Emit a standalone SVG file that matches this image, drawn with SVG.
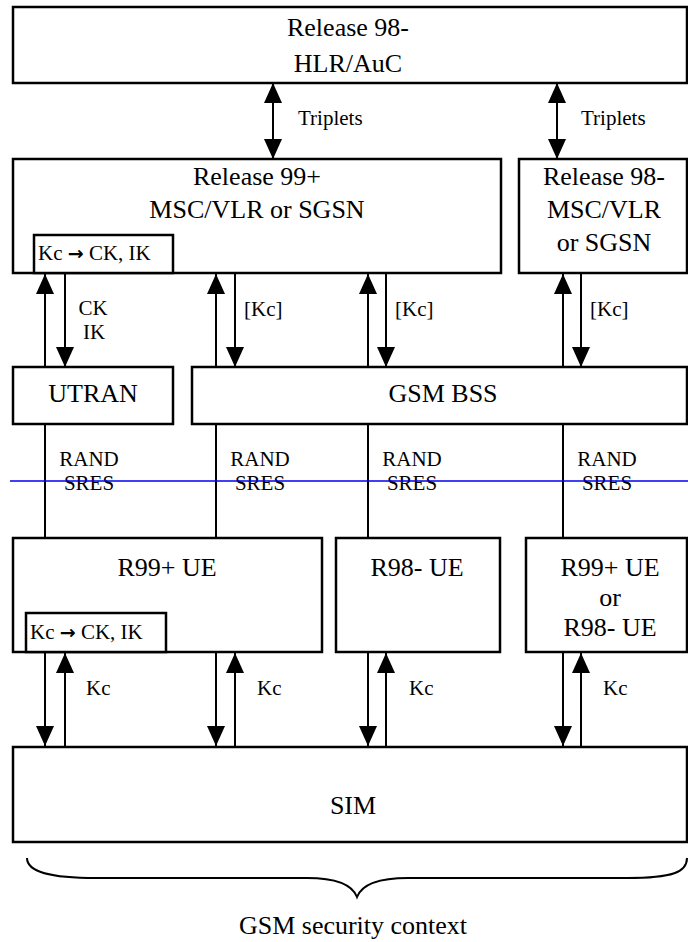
<svg xmlns="http://www.w3.org/2000/svg" width="688" height="942" viewBox="0 0 688 942">
<style>
.box{fill:#fff;stroke:#000;stroke-width:2.5}
.ln{stroke:#000;stroke-width:2;fill:none}
.t{font-family:"Liberation Serif","Times New Roman",serif;font-size:26px;fill:#000;text-anchor:middle}
.s{font-family:"Liberation Serif","Times New Roman",serif;font-size:21px;fill:#000}
.m{text-anchor:middle}
.ar{font-family:"DejaVu Sans",sans-serif;font-size:19px;font-weight:bold}
</style>
<defs>
<marker id="ah" markerUnits="userSpaceOnUse" markerWidth="20" markerHeight="18" refX="20" refY="9" orient="auto-start-reverse" viewBox="0 0 20 18">
<path d="M0,0 L20,9 L0,18 z" fill="#000"/>
</marker>
</defs>
<rect width="688" height="942" fill="#fff"/>
<g id="hlr"><rect class="box" x="13" y="7" width="674" height="76"/>
<text class="t" x="348" y="36">Release 98-</text><text class="t" x="348" y="72">HLR/AuC</text></g>
<g id="msc99"><rect class="box" x="13" y="159" width="488" height="114"/>
<text class="t" x="257" y="185">Release 99+</text><text class="t" x="257" y="218">MSC/VLR or SGSN</text></g>
<g id="msc99conv"><rect class="box" x="34" y="235" width="139" height="38"/>
<text class="s" x="38" y="260">Kc <tspan class="ar">→</tspan> CK, IK</text></g>
<g id="msc98"><rect class="box" x="519" y="159" width="168" height="114"/>
<text class="t" x="604" y="185">Release 98-</text><text class="t" x="604" y="218">MSC/VLR</text><text class="t" x="604" y="251">or SGSN</text></g>
<g id="utran"><rect class="box" x="13" y="367" width="160" height="57"/><text class="t" x="93" y="402">UTRAN</text></g>
<g id="bss"><rect class="box" x="192" y="367" width="495" height="57"/><text class="t" x="443" y="402">GSM BSS</text></g>
<g id="ue99"><rect class="box" x="13" y="538" width="309" height="114"/><text class="t" x="167" y="576">R99+ UE</text></g>
<g id="ue99conv"><rect class="box" x="26" y="613" width="140" height="39"/><text class="s" x="30" y="639">Kc <tspan class="ar">→</tspan> CK, IK</text></g>
<g id="ue98"><rect class="box" x="336" y="538" width="164" height="114"/><text class="t" x="417" y="576">R98- UE</text></g>
<g id="ueany"><rect class="box" x="526" y="538" width="161" height="114"/>
<text class="t" x="610" y="576">R99+ UE</text><text class="t" x="610" y="606">or</text><text class="t" x="610" y="636">R98- UE</text></g>
<g id="sim"><rect class="box" x="13" y="747" width="674" height="95"/><text class="t" x="353" y="814">SIM</text></g>
<g id="connectors">
<line class="ln" x1="273" y1="83" x2="273" y2="159" marker-start="url(#ah)" marker-end="url(#ah)"/>
<line class="ln" x1="557" y1="83" x2="557" y2="159" marker-start="url(#ah)" marker-end="url(#ah)"/>
<line class="ln" x1="45" y1="367" x2="45" y2="274" marker-end="url(#ah)"/>
<line class="ln" x1="65" y1="274" x2="65" y2="367" marker-end="url(#ah)"/>
<line class="ln" x1="216" y1="367" x2="216" y2="274" marker-end="url(#ah)"/>
<line class="ln" x1="235" y1="274" x2="235" y2="367" marker-end="url(#ah)"/>
<line class="ln" x1="368" y1="367" x2="368" y2="274" marker-end="url(#ah)"/>
<line class="ln" x1="386" y1="274" x2="386" y2="367" marker-end="url(#ah)"/>
<line class="ln" x1="563" y1="367" x2="563" y2="274" marker-end="url(#ah)"/>
<line class="ln" x1="581" y1="274" x2="581" y2="367" marker-end="url(#ah)"/>
<line class="ln" x1="45" y1="424" x2="45" y2="538"/>
<line class="ln" x1="216" y1="424" x2="216" y2="538"/>
<line class="ln" x1="368" y1="424" x2="368" y2="538"/>
<line class="ln" x1="563" y1="424" x2="563" y2="538"/>
<line class="ln" x1="45" y1="653" x2="45" y2="746" marker-end="url(#ah)"/>
<line class="ln" x1="65" y1="746" x2="65" y2="653" marker-end="url(#ah)"/>
<line class="ln" x1="216" y1="653" x2="216" y2="746" marker-end="url(#ah)"/>
<line class="ln" x1="235" y1="746" x2="235" y2="653" marker-end="url(#ah)"/>
<line class="ln" x1="368" y1="653" x2="368" y2="746" marker-end="url(#ah)"/>
<line class="ln" x1="386" y1="746" x2="386" y2="653" marker-end="url(#ah)"/>
<line class="ln" x1="563" y1="653" x2="563" y2="746" marker-end="url(#ah)"/>
<line class="ln" x1="581" y1="746" x2="581" y2="653" marker-end="url(#ah)"/>
</g>
<g id="labels">
<text class="s" x="298" y="125">Triplets</text>
<text class="s" x="581" y="125">Triplets</text>
<text class="s m" x="93" y="315">CK</text><text class="s m" x="94" y="339">IK</text>
<text class="s" x="244" y="316">[Kc]</text>
<text class="s" x="395" y="316">[Kc]</text>
<text class="s" x="590" y="316">[Kc]</text>
<text class="s m" x="89" y="466">RAND</text><text class="s m" x="89" y="490">SRES</text>
<text class="s m" x="260" y="466">RAND</text><text class="s m" x="260" y="490">SRES</text>
<text class="s m" x="412" y="466">RAND</text><text class="s m" x="412" y="490">SRES</text>
<text class="s m" x="607" y="466">RAND</text><text class="s m" x="607" y="490">SRES</text>
<text class="s" x="86" y="695">Kc</text>
<text class="s" x="257" y="695">Kc</text>
<text class="s" x="409" y="695">Kc</text>
<text class="s" x="603" y="695">Kc</text>
</g>
<line x1="10" y1="481" x2="688" y2="481" stroke="#0000ee" stroke-width="1.5"/>
<path class="ln" d="M27,858 C27,872 50,878 96,878 L307,878 C335,878 352,884 357,897 C362,884 379,878 408,878 L627,878 C673,878 687,872 687,858"/>
<text class="t" x="353" y="934">GSM security context</text>
</svg>
